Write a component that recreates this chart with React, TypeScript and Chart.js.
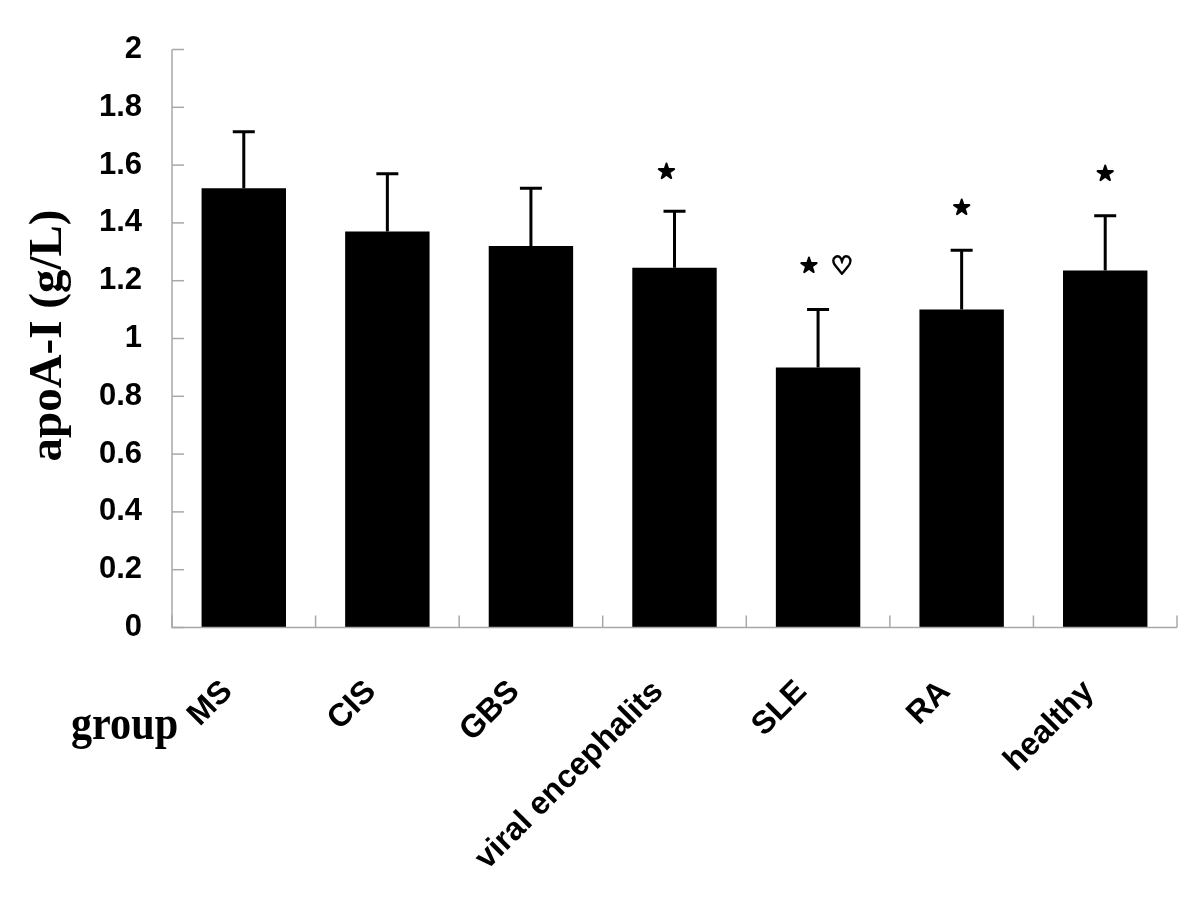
import React, { useEffect, useRef } from "react";
import { Chart, registerables } from "chart.js";

Chart.register(...registerables);

// ---- data ----
const categories = ["MS", "CIS", "GBS", "viral encephalits", "SLE", "RA", "healthy"];
const means = [1.52, 1.37, 1.32, 1.245, 0.9, 1.1, 1.235];
const sds = [0.195, 0.2, 0.2, 0.195, 0.2, 0.205, 0.19];
const yMin = 0;
const yMax = 2;
const yStep = 0.2;
const markerText = ["", "", "", "★", "★", "★", "★"];
const markerValues = [null, null, null, 1.573, 1.247, 1.448, 1.566];
const secondMarkerText = ["", "", "", "", "♡", "", ""];
const yTitle = "apoA-I (g/L)";
const xTitle = "group";

const SANS = "'Liberation Sans', Arial, sans-serif";
const SERIF = "'Liberation Serif', 'Times New Roman', serif";

const decorPlugin = {
  id: "decor",
  afterDatasetsDraw(chart: any) {
    const ctx = chart.ctx;
    const area = chart.chartArea;
    const xs = chart.scales.x;
    const ys = chart.scales.y;
    ctx.save();

    // axes
    ctx.strokeStyle = "#a8a8a8";
    ctx.lineWidth = 1.5;
    ctx.beginPath();
    ctx.moveTo(area.left, area.top);
    ctx.lineTo(area.left, area.bottom);
    ctx.lineTo(area.right, area.bottom);
    ctx.stroke();
    // y ticks (inward)
    for (let v = yMin; v <= yMax + 1e-9; v += yStep) {
      const y = ys.getPixelForValue(v);
      ctx.beginPath();
      ctx.moveTo(area.left, y);
      ctx.lineTo(area.left + 12, y);
      ctx.stroke();
    }
    // x ticks at category boundaries (inward)
    const n = categories.length;
    const w = (area.right - area.left) / n;
    for (let i = 0; i <= n; i++) {
      const x = area.left + i * w;
      ctx.beginPath();
      ctx.moveTo(x, area.bottom);
      ctx.lineTo(x, area.bottom - 12);
      ctx.stroke();
    }

    // error bars
    const meta = chart.getDatasetMeta(0);
    ctx.strokeStyle = "#000";
    ctx.lineWidth = 3;
    meta.data.forEach((bar: any, i: number) => {
      const x = bar.x;
      const yTop = ys.getPixelForValue(means[i] + sds[i]);
      const yBase = ys.getPixelForValue(means[i]);
      ctx.beginPath();
      ctx.moveTo(x, yBase);
      ctx.lineTo(x, yTop);
      ctx.moveTo(x - 11, yTop);
      ctx.lineTo(x + 11, yTop);
      ctx.stroke();
    });

    // significance markers
    const starOffsets = [0, 0, 0, -8, -9, 0, 0];
    ctx.fillStyle = "#000";
    ctx.strokeStyle = "#000";
    ctx.textAlign = "center";
    ctx.textBaseline = "middle";
    ctx.lineJoin = "round";
    meta.data.forEach((bar: any, i: number) => {
      const mv = markerValues[i];
      if (mv == null) return;
      const y = ys.getPixelForValue(mv);
      if (markerText[i]) {
        ctx.font = "bold 20px 'DejaVu Sans', sans-serif";
        ctx.lineWidth = 2;
        ctx.fillText(markerText[i], bar.x + starOffsets[i], y);
        ctx.strokeText(markerText[i], bar.x + starOffsets[i], y);
      }
      if (secondMarkerText[i]) {
        ctx.font = "bold 25px 'DejaVu Sans', sans-serif";
        ctx.lineWidth = 1.8;
        ctx.fillText(secondMarkerText[i], bar.x + 24, y);
        ctx.strokeText(secondMarkerText[i], bar.x + 24, y);
      }
    });

    // x category labels (rotated)
    ctx.fillStyle = "#000";
    ctx.font = `bold 32px ${SANS}`;
    ctx.textAlign = "right";
    ctx.textBaseline = "alphabetic";
    categories.forEach((c, i) => {
      const x = xs.getPixelForValue(i);
      ctx.save();
      ctx.translate(x - 10, 693);
      ctx.rotate(-Math.PI / 4);
      ctx.fillText(c, 0, 0);
      ctx.restore();
    });

    // "group" label
    ctx.save();
    ctx.font = `bold 48px ${SERIF}`;
    ctx.textAlign = "left";
    ctx.textBaseline = "alphabetic";
    ctx.translate(71, 739);
    ctx.scale(0.88, 1);
    ctx.fillText(xTitle, 0, 0);
    ctx.restore();

    // y title
    ctx.save();
    ctx.font = `bold 47px ${SERIF}`;
    ctx.textAlign = "center";
    ctx.textBaseline = "alphabetic";
    ctx.translate(61, (area.top + area.bottom) / 2 - 3);
    ctx.rotate(-Math.PI / 2);
    ctx.fillText(yTitle, 0, 0);
    ctx.restore();

    ctx.restore();
  },
};

export default function App() {
  const ref = useRef<HTMLCanvasElement | null>(null);
  useEffect(() => {
    document.body.style.margin = "0";
    const canvas = ref.current;
    if (!canvas) return;
    const chart = new Chart(canvas, {
      type: "bar",
      data: {
        labels: categories,
        datasets: [
          {
            data: means,
            backgroundColor: "#000",
            borderWidth: 0,
            barPercentage: 0.588,
            categoryPercentage: 1,
          },
        ],
      },
      options: {
        responsive: false,
        animation: false,
        devicePixelRatio: 1,
        layout: { padding: { top: 49.5, right: 23, bottom: 0, left: 0 } },
        plugins: {
          legend: { display: false },
          tooltip: { enabled: false },
          title: { display: false },
        },
        scales: {
          x: {
            grid: { display: false, drawTicks: false },
            border: { display: false },
            ticks: { display: false },
            afterFit: (s: any) => {
              s.height = 277.5;
            },
          },
          y: {
            min: yMin,
            max: yMax,
            grid: { display: false, drawTicks: false, tickLength: 0 },
            border: { display: false },
            ticks: {
              stepSize: yStep,
              padding: 30,
              color: "#000",
              font: { family: SANS, size: 31, weight: "bold" },
              callback: (v: any) => String(Math.round(Number(v) * 10) / 10),
            },
            afterFit: (s: any) => {
              s.width = 172;
            },
          },
        },
      },
      plugins: [decorPlugin],
    });
    return () => chart.destroy();
  }, []);
  return (
    <div style={{ width: 1200, height: 905 }}>
      <canvas ref={ref} width={1200} height={905} />
    </div>
  );
}
